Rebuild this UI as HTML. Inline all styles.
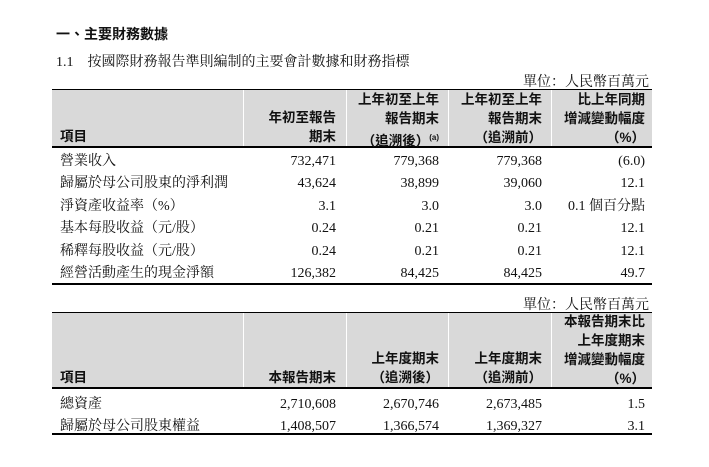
<!DOCTYPE html>
<html><head><meta charset="utf-8"><style>
body{margin:0;background:#fff;width:709px;height:467px;position:relative;font-family:"Liberation Serif","Noto Serif CJK SC",serif;color:#111;overflow:hidden}
.a{position:absolute;white-space:nowrap}
.t{font-family:"Liberation Sans","Noto Sans CJK TC",sans-serif;font-weight:bold;font-size:14px}
.hdr{position:absolute;left:52px;width:600px;background:#d9d9d9}
.rule{position:absolute;left:52px;width:600px;background:#000}
.sep{position:absolute;width:1px;background:#fff}
.h{position:absolute;font-family:"Liberation Sans","Noto Sans CJK TC",sans-serif;font-weight:bold;font-size:13.5px;line-height:19px;text-align:right;white-space:nowrap}
.r{position:absolute;font-size:14px;white-space:nowrap}
.n{text-align:right}
</style></head><body>
<div class="a t" style="left:56px;top:24px">一、主要財務數據</div>
<div class="a" style="left:56px;top:51px;font-size:14px">1.1&nbsp;&nbsp;&nbsp;&nbsp;按國際財務報告準則編制的主要會計數據和財務指標</div>
<div class="a" style="right:60px;top:71px;font-size:14px">單位：人民幣百萬元</div>
<div class="hdr" style="top:90px;height:56px"></div>
<div class="rule" style="top:89px;height:1px"></div>
<div class="rule" style="top:146px;height:1.5px"></div>
<div class="sep" style="left:243px;top:90px;height:56px"></div>
<div class="sep" style="left:346px;top:90px;height:56px"></div>
<div class="sep" style="left:448px;top:90px;height:56px"></div>
<div class="sep" style="left:551px;top:90px;height:56px"></div>
<div class="h" style="left:60px;top:127px;text-align:left">項目</div>
<div class="h" style="right:373px;top:108px">年初至報告<br>期末</div>
<div class="h" style="right:270px;top:90px">上年初至上年<br>報告期末<br>（追溯後）<sup style="font-size:8px">(a)</sup></div>
<div class="h" style="right:167px;top:90px">上年初至上年<br>報告期末<br>（追溯前）</div>
<div class="h" style="right:64px;top:90px">比上年同期<br>增減變動幅度<br>（%）</div>
<div class="rule" style="top:283px;height:2px"></div>

<div class="a" style="right:60px;top:294px;font-size:14px">單位：人民幣百萬元</div>
<div class="hdr" style="top:313px;height:74px"></div>
<div class="rule" style="top:312px;height:1px"></div>
<div class="rule" style="top:387px;height:1.5px"></div>
<div class="sep" style="left:243px;top:313px;height:74px"></div>
<div class="sep" style="left:346px;top:313px;height:74px"></div>
<div class="sep" style="left:448px;top:313px;height:74px"></div>
<div class="sep" style="left:551px;top:313px;height:74px"></div>
<div class="h" style="left:60px;top:368px;text-align:left">項目</div>
<div class="h" style="right:373px;top:368px">本報告期末</div>
<div class="h" style="right:270px;top:349px">上年度期末<br>（追溯後）</div>
<div class="h" style="right:167px;top:349px">上年度期末<br>（追溯前）</div>
<div class="h" style="right:64px;top:312px">本報告期末比<br>上年度期末<br>增減變動幅度<br>（%）</div>
<div class="rule" style="top:433px;height:2px"></div>

<div class="r" style="left:60px;top:151px;line-height:22.4px">營業收入<br>歸屬於母公司股東的淨利潤<br>淨資產收益率（%）<br>基本每股收益（元/股）<br>稀釋每股收益（元/股）<br>經營活動產生的現金淨額</div>
<div class="r n" style="right:373px;top:151px;line-height:22.4px">732,471<br>43,624<br>3.1<br>0.24<br>0.24<br>126,382</div>
<div class="r n" style="right:270px;top:151px;line-height:22.4px">779,368<br>38,899<br>3.0<br>0.21<br>0.21<br>84,425</div>
<div class="r n" style="right:167px;top:151px;line-height:22.4px">779,368<br>39,060<br>3.0<br>0.21<br>0.21<br>84,425</div>
<div class="r n" style="right:64px;top:151px;line-height:22.4px">(6.0)<br>12.1<br>0.1 個百分點<br>12.1<br>12.1<br>49.7</div>

<div class="r" style="left:60px;top:394px;line-height:22px">總資產<br>歸屬於母公司股東權益</div>
<div class="r n" style="right:373px;top:394px;line-height:22px">2,710,608<br>1,408,507</div>
<div class="r n" style="right:270px;top:394px;line-height:22px">2,670,746<br>1,366,574</div>
<div class="r n" style="right:167px;top:394px;line-height:22px">2,673,485<br>1,369,327</div>
<div class="r n" style="right:64px;top:394px;line-height:22px">1.5<br>3.1</div>
</body></html>
